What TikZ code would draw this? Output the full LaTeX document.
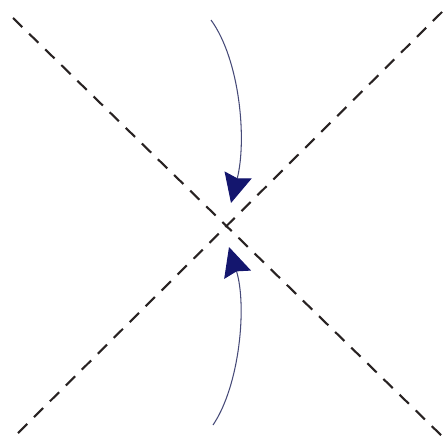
\documentclass[tikz,border=0pt]{standalone}
\usepackage{tikz}
\usepackage{xcolor}
\usetikzlibrary{arrows.meta, calc}
\definecolor{cLine}{RGB}{40,34,34}
\definecolor{cFlow}{RGB}{20,22,110}
\definecolor{cCurve}{RGB}{70,74,120}
\tikzset{
	separatrix/.style={draw=cLine, line width=1.2pt, dash pattern=on 7.4pt off 5.4pt},
	% stable manifold, running into the saddle
	inflow/.style={draw=cCurve, line width=0.6pt, -{Stealth[length=5.8mm, width=5.6mm, inset=0.7mm, color=cFlow, fill=cFlow]}},
}

\begin{document}
\begin{tikzpicture}[x=0.02cm, y=-0.02cm]
			\useasboundingbox (0,0) rectangle (445,439);
			\coordinate (tl) at (13,18);
			\coordinate (br) at (445,439);
			\coordinate (bl) at (18,433);
			\coordinate (tr) at (442,12);
			\coordinate (top) at (211,20);
			\coordinate (bot) at (213,425);
			\coordinate (intop) at (231,203);
			\coordinate (inbot) at (229,247);
			\draw[separatrix] (tl) -- (br);
			\draw[separatrix] (bl) -- (tr);
			\draw[inflow] (top) .. controls (240,60) and (247,140) .. (intop);
			\draw[inflow] (bot) .. controls (240,385) and (247,305) .. (inbot);
		\end{tikzpicture}
\end{document}
